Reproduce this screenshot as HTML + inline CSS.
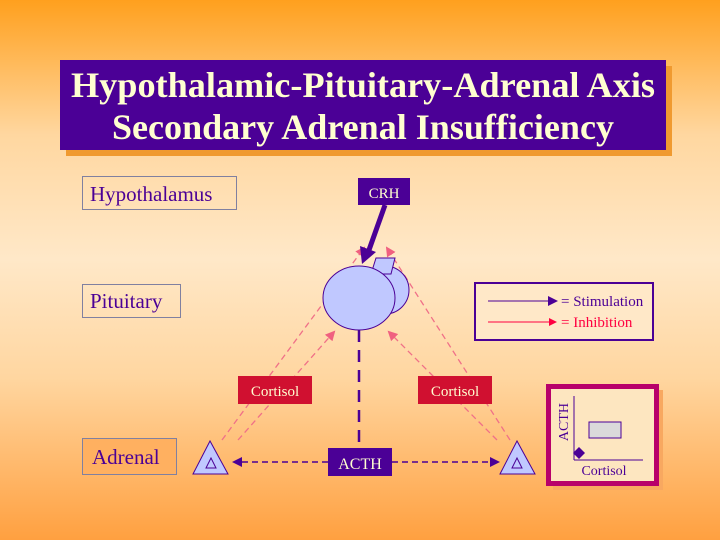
<!DOCTYPE html>
<html><head><style>
html,body{margin:0;padding:0;}
body{width:720px;height:540px;overflow:hidden;background:linear-gradient(to bottom,#ffa01e 0%,#ffd7a0 25%,#ffe8c8 48%,#ffd6a0 70%,#ffa040 100%);font-family:"Liberation Serif",serif;}
</style></head><body>
<svg width="720" height="540" viewBox="0 0 720 540" xmlns="http://www.w3.org/2000/svg" style="position:absolute;left:0;top:0">
<defs>
<marker id="pk" markerWidth="10" markerHeight="10" refX="8" refY="5" orient="auto" markerUnits="userSpaceOnUse"><path d="M0,0 L10,5 L0,10 z" fill="#f06080"/></marker>
<marker id="pu" markerWidth="10" markerHeight="10" refX="8" refY="5" orient="auto" markerUnits="userSpaceOnUse"><path d="M0,0 L10,5 L0,10 z" fill="#4b0096"/></marker>
<marker id="rd" markerWidth="8" markerHeight="8" refX="7" refY="4" orient="auto" markerUnits="userSpaceOnUse"><path d="M0,0 L8,4 L0,8 z" fill="#ff0040"/></marker>
</defs>
<rect x="66" y="66" width="606" height="90" fill="#f09a30"/>
<rect x="60" y="60" width="606" height="90" fill="#4b0096"/>
<text x="363" y="97" text-anchor="middle" font-size="36" font-weight="bold" fill="#ffffd0" textLength="584" lengthAdjust="spacingAndGlyphs">Hypothalamic-Pituitary-Adrenal Axis</text>
<text x="363" y="139" text-anchor="middle" font-size="36" font-weight="bold" fill="#ffffd0" textLength="502" lengthAdjust="spacingAndGlyphs">Secondary Adrenal Insufficiency</text>
<g fill="none" stroke="#8080a0" stroke-width="1">
<rect x="82.5" y="176.5" width="154" height="33"/>
<rect x="82.5" y="284.5" width="98" height="33"/>
<rect x="82.5" y="438.5" width="94" height="36" fill="#ffb060"/>
</g>
<g font-size="21" fill="#4b0096">
<text x="90" y="201">Hypothalamus</text>
<text x="90" y="308">Pituitary</text>
<text x="92" y="464">Adrenal</text>
</g>
<g stroke="#f07088" stroke-width="1.3" stroke-dasharray="6,4" fill="none">
<line x1="222" y1="440" x2="364" y2="248" marker-end="url(#pk)"/>
<line x1="238" y1="440" x2="334" y2="332" marker-end="url(#pk)"/>
<line x1="510" y1="440" x2="387" y2="248" marker-end="url(#pk)"/>
<line x1="497" y1="440" x2="389" y2="332" marker-end="url(#pk)"/>
</g>
<circle cx="385" cy="290" r="24" fill="#c0c8ff" stroke="#4b0096" stroke-width="1"/>
<path d="M376,258 L395,258 L391,274 L371,274 z" fill="#c0c8ff" stroke="#4b0096" stroke-width="1"/>
<ellipse cx="359" cy="298" rx="36" ry="32" fill="#c0c8ff" stroke="#4b0096" stroke-width="1"/>
<line x1="385" y1="205" x2="369" y2="250" stroke="#4b0096" stroke-width="5"/>
<path d="M362,264 L360,246 L376,252 z" fill="#4b0096"/>
<rect x="358" y="178" width="52" height="27" fill="#4b0096"/>
<text x="384" y="198" text-anchor="middle" font-size="15" fill="#ffffd0">CRH</text>
<line x1="359" y1="330" x2="359" y2="450" stroke="#4b0096" stroke-width="2.5" stroke-dasharray="12,8"/>
<line x1="328" y1="462" x2="234" y2="462" stroke="#4b0096" stroke-width="1.5" stroke-dasharray="6,4" marker-end="url(#pu)"/>
<line x1="392" y1="462" x2="498" y2="462" stroke="#4b0096" stroke-width="1.5" stroke-dasharray="6,4" marker-end="url(#pu)"/>
<rect x="328" y="448" width="64" height="28" fill="#4b0096"/>
<text x="360" y="469" text-anchor="middle" font-size="16" fill="#ffffd0">ACTH</text>
<path d="M210,441 L193,474 L228,474 z" fill="#c0c8ff" stroke="#4b0096" stroke-width="1"/>
<path d="M211,458 L206,468 L216,468 z" fill="none" stroke="#4b0096" stroke-width="1"/>
<path d="M517,441 L500,474 L535,474 z" fill="#c0c8ff" stroke="#4b0096" stroke-width="1"/>
<path d="M517,458 L512,468 L522,468 z" fill="none" stroke="#4b0096" stroke-width="1"/>
<rect x="238" y="376" width="74" height="28" fill="#d01030"/>
<text x="275" y="396" text-anchor="middle" font-size="15" fill="#ffffd0">Cortisol</text>
<rect x="418" y="376" width="74" height="28" fill="#d01030"/>
<text x="455" y="396" text-anchor="middle" font-size="15" fill="#ffffd0">Cortisol</text>
<rect x="475" y="283" width="178" height="57" fill="#ffe8c8" stroke="#4b0096" stroke-width="2"/>
<line x1="488" y1="301" x2="556" y2="301" stroke="#4b0096" stroke-width="1" marker-end="url(#pu)"/>
<line x1="488" y1="322" x2="556" y2="322" stroke="#ff0040" stroke-width="1" marker-end="url(#rd)"/>
<text x="561" y="306" font-size="15" fill="#4b0096">= Stimulation</text>
<text x="561" y="327" font-size="15" fill="#ff0040">= Inhibition</text>
<rect x="553" y="390" width="110" height="100" fill="#f8a860"/>
<rect x="548.5" y="386.5" width="108" height="97" fill="#fde6c0" stroke="#b8006a" stroke-width="5"/>
<line x1="574" y1="396" x2="574" y2="460" stroke="#4b0096" stroke-width="1"/>
<line x1="574" y1="460" x2="643" y2="460" stroke="#4b0096" stroke-width="1"/>
<rect x="589" y="422" width="32" height="16" fill="#dadada" stroke="#4b0096" stroke-width="1"/>
<path d="M579,447 L585,453 L579,459 L573,453 z" fill="#4b0096"/>
<text x="604" y="475" text-anchor="middle" font-size="14" fill="#4b0096">Cortisol</text>
<text transform="translate(568,422) rotate(-90)" text-anchor="middle" font-size="14" fill="#4b0096">ACTH</text>
</svg>
</body></html>
